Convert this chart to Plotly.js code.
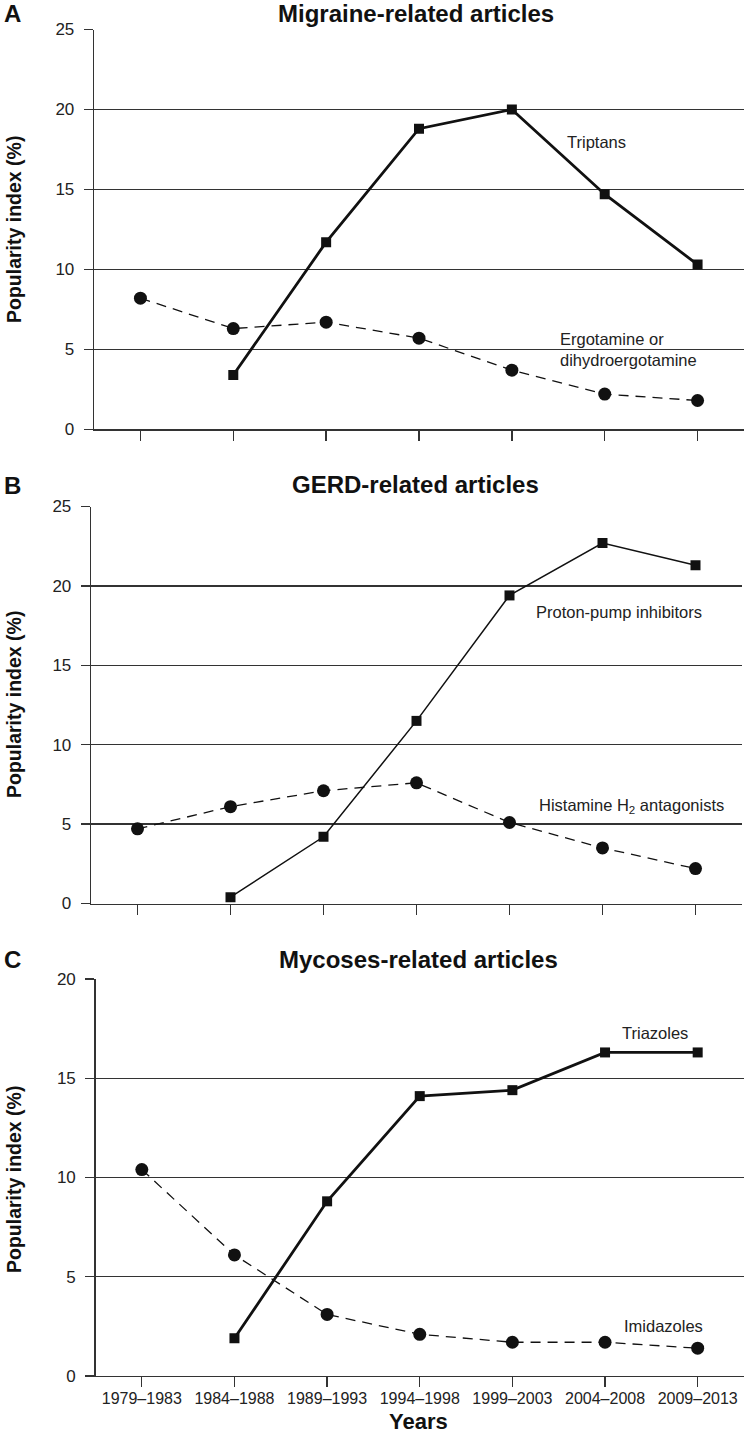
<!DOCTYPE html>
<html>
<head>
<meta charset="utf-8">
<script src="https://cdn.plot.ly/plotly-3.0.1.min.js"></script>
<style>
  body { margin: 0; background: #fff; }
  #chart { width: 745px; height: 1434px; }
</style>
</head>
<body>
<div id="chart"></div>
<script>
// Periods on the x axis (shared by all three panels)
var periods = ['1979–1983', '1984–1988', '1989–1993', '1994–1998', '1999–2003', '2004–2008', '2009–2013'];

// Panel A: migraine
var triptans = [null, 3.4, 11.7, 18.8, 20.0, 14.7, 10.3];
var ergotamine = [8.2, 6.3, 6.7, 5.7, 3.7, 2.2, 1.8];

// Panel B: GERD
var ppi = [null, 0.4, 4.2, 11.5, 19.4, 22.7, 21.3];
var h2antagonists = [4.7, 6.1, 7.1, 7.6, 5.1, 3.5, 2.2];

// Panel C: mycoses
var triazoles = [null, 1.9, 8.8, 14.1, 14.4, 16.3, 16.3];
var imidazoles = [10.4, 6.1, 3.1, 2.1, 1.7, 1.7, 1.4];

var W = 745, H = 1434;
var FONT = 'Liberation Sans, Arial, sans-serif';
var INK = '#111';
var GRID = '#333';

// pixel helpers for paper coordinates
function px(x) { return x / W; }
function py(y) { return 1 - y / H; }

function solid(y, xa, ya, width) {
  return {
    x: periods, y: y, xaxis: xa, yaxis: ya, type: 'scatter', mode: 'lines+markers',
    line: {color: INK, width: width},
    marker: {symbol: 'square', size: 10, color: INK},
    hoverinfo: 'skip', showlegend: false
  };
}
function dashed(y, xa, ya) {
  return {
    x: periods, y: y, xaxis: xa, yaxis: ya, type: 'scatter', mode: 'lines+markers',
    line: {color: INK, width: 1.3, dash: '10px,7px'},
    marker: {symbol: 'circle', size: 13, color: INK},
    hoverinfo: 'skip', showlegend: false
  };
}

var data = [
  dashed(ergotamine, 'x', 'y'),
  solid(triptans, 'x', 'y', 2.8),
  dashed(h2antagonists, 'x2', 'y2'),
  solid(ppi, 'x2', 'y2', 1.5),
  dashed(imidazoles, 'x3', 'y3'),
  solid(triazoles, 'x3', 'y3', 2.8)
];

function xax(domain, anchor, labels) {
  return {
    domain: domain, anchor: anchor, type: 'category',
    categoryorder: 'array', categoryarray: periods,
    range: [-0.5, 6.5], fixedrange: true,
    showgrid: false, zeroline: false,
    showline: true, linecolor: GRID, linewidth: 1.3,
    ticks: 'outside', ticklen: 10, tickwidth: 1.3, tickcolor: GRID,
    showticklabels: labels, ticklabelstandoff: -3,
    tickfont: {family: FONT, size: 16, color: '#222'}
  };
}
function yax(domain, anchor, top) {
  return {
    domain: domain, anchor: anchor,
    range: [0, top], dtick: 5, fixedrange: true,
    showgrid: true, gridcolor: GRID, gridwidth: 1.3,
    zeroline: false,
    showline: true, linecolor: GRID, linewidth: 1.3,
    ticks: 'outside', ticklen: 9, tickwidth: 1.3, tickcolor: GRID,
    ticklabelstandoff: 6,
    tickfont: {family: FONT, size: 17, color: '#222'}
  };
}

var annoText = {family: FONT, size: 16.5, color: '#222'};
function label(text, x, y, font, opts) {
  var a = {
    text: text, xref: 'paper', yref: 'paper', x: px(x), y: py(y),
    xanchor: 'left', yanchor: 'middle', showarrow: false, align: 'left', font: font
  };
  for (var k in opts) a[k] = opts[k];
  return a;
}

var titleFont = {family: FONT, size: 24, color: INK};
var letterFont = {family: FONT, size: 24, color: INK};
var yTitleFont = {family: FONT, size: 19.5, color: INK};

var annotations = [
  // panel letters
  label('<b>A</b>', 2, 13, letterFont),
  label('<b>B</b>', 2, 486, letterFont),
  label('<b>C</b>', 2, 959, letterFont),
  // panel titles
  label('<b>Migraine-related articles</b>', 416, 13, titleFont, {xanchor: 'center'}),
  label('<b>GERD-related articles</b>', 416, 484, titleFont, {xanchor: 'center'}),
  label('<b>Mycoses-related articles</b>', 418, 959, titleFont, {xanchor: 'center'}),
  // y titles
  label('<b>Popularity index (%)</b>', 14, 230, yTitleFont, {xanchor: 'center', textangle: -90}),
  label('<b>Popularity index (%)</b>', 14, 705, yTitleFont, {xanchor: 'center', textangle: -90}),
  label('<b>Popularity index (%)</b>', 14, 1180, yTitleFont, {xanchor: 'center', textangle: -90}),
  // x title
  label('<b>Years</b>', 418, 1435, {family: FONT, size: 22, color: INK}, {xanchor: 'center', yanchor: 'bottom', borderpad: 0}),
  // series labels
  label('Triptans', 565, 142, annoText),
  label('Ergotamine or<br>dihydroergotamine', 558, 349, annoText),
  label('Proton-pump inhibitors', 534, 612, annoText),
  label('Histamine H<sub>2</sub> antagonists', 537, 806, annoText),
  label('Triazoles', 620, 1033, annoText),
  label('Imidazoles', 622, 1326, annoText)
];

var layout = {
  width: W, height: H,
  margin: {l: 0, r: 0, t: 0, b: 0},
  paper_bgcolor: '#fff', plot_bgcolor: '#fff',
  font: {family: FONT, color: INK},
  showlegend: false,
  xaxis: xax([px(94), px(744)], 'y', false),
  yaxis: yax([py(429.3), py(29.5)], 'x', 25),
  xaxis2: xax([px(91), px(742)], 'y2', false),
  yaxis2: yax([py(903.5), py(506.5)], 'x2', 25),
  xaxis3: xax([px(95.5), px(744)], 'y3', true),
  yaxis3: yax([py(1376), py(979)], 'x3', 20),
  annotations: annotations
};

Plotly.newPlot('chart', data, layout, {staticPlot: true, displayModeBar: false});
</script>
</body>
</html>
